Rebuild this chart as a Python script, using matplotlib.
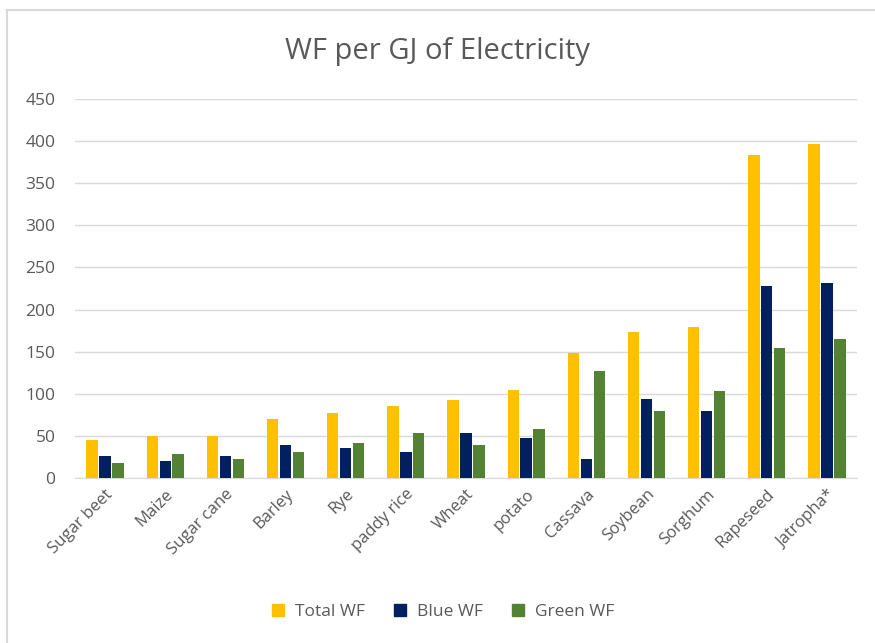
import numpy as np
import matplotlib.pyplot as plt
from matplotlib.lines import Line2D

plt.rcParams['font.family'] = ['Open Sans', 'DejaVu Sans']

crops = ['Sugar beet', 'Maize', 'Sugar cane', 'Barley', 'Rye', 'paddy rice',
         'Wheat', 'potato', 'Cassava', 'Soybean', 'Sorghum', 'Rapeseed', 'Jatropha*']
total_wf = [45, 50, 50, 70, 77, 85, 93, 105, 149, 173, 179, 383, 397]
blue_wf = [26, 20, 26, 39, 36, 31, 54, 47, 22, 94, 79, 228, 231]
green_wf = [18, 29, 22, 31, 41, 54, 39, 58, 127, 79, 103, 154, 165]
y_ticks = [0, 50, 100, 150, 200, 250, 300, 350, 400, 450]

grey_text = '#595959'

fig = plt.figure(figsize=(8.75, 6.43), dpi=100)
ax = fig.add_axes([75 / 875, 1 - 478 / 643, 782 / 875, 379 / 643])

x = np.arange(len(crops))
w = 0.19
ax.bar(x - 0.215, total_wf, w, color='#FFC000', label='Total WF', zorder=3)
ax.bar(x, blue_wf, w, color='#002060', label='Blue WF', zorder=3)
ax.bar(x + 0.215, green_wf, w, color='#548235', label='Green WF', zorder=3)

ax.set_xlim(-0.5, len(crops) - 0.5)
ax.set_ylim(0, 450)
ax.set_yticks(y_ticks)
ax.yaxis.grid(True, color='#D9D9D9', lw=1, zorder=0)
for s in ['top', 'right', 'left']:
    ax.spines[s].set_visible(False)
ax.spines['bottom'].set_color('#D9D9D9')
ax.tick_params(axis='y', length=0, labelsize=12.5, colors=grey_text, pad=14)
ax.tick_params(axis='x', length=0, labelsize=12, colors=grey_text, pad=6)
ax.set_xticks(x)
ax.set_xticklabels(crops, rotation=45, ha='right', rotation_mode='anchor')

fig.text(0.5, 1 - 52 / 643, 'WF per GJ of Electricity', ha='center', va='center',
         fontsize=21, color=grey_text)

handles = [Line2D([], [], marker='s', ls='', markersize=9, color=c)
           for c in ['#FFC000', '#002060', '#548235']]
fig.legend(handles, ['Total WF', 'Blue WF', 'Green WF'], loc='center',
           bbox_to_anchor=(0.5, 1 - 612 / 643), ncol=3, frameon=False,
           fontsize=12.5, labelcolor=grey_text, handletextpad=0.0, columnspacing=1.0)

# chart border
fig.add_artist(Line2D([7 / 875, 7 / 875], [0, 1 - 10 / 643], color='#D9D9D9', lw=1.5))
fig.add_artist(Line2D([7 / 875, 1], [1 - 10 / 643, 1 - 10 / 643], color='#D9D9D9', lw=1.5))

fig.savefig('out.png', dpi=100)
